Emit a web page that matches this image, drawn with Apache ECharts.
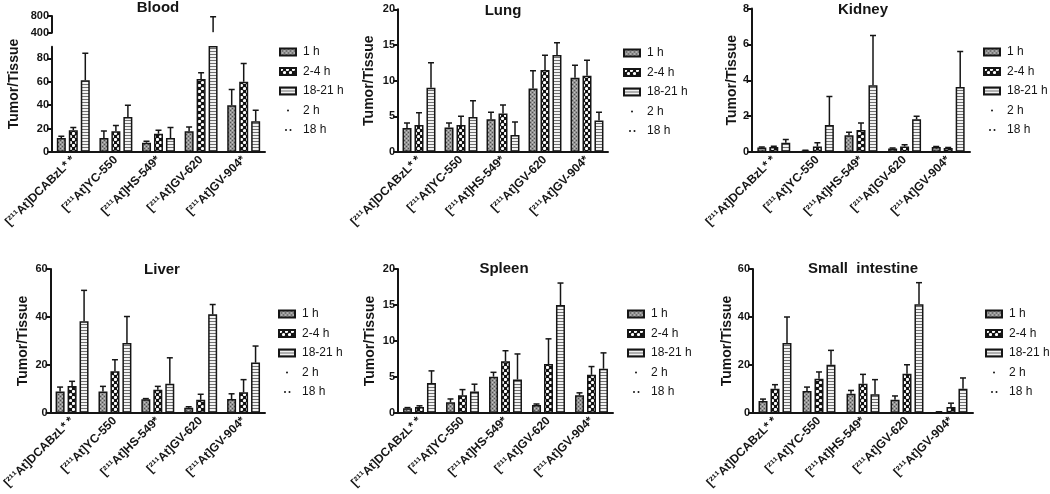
<!DOCTYPE html>
<html><head><meta charset="utf-8">
<script src="https://cdn.jsdelivr.net/npm/echarts@6/dist/echarts.min.js"></script>
<style>html,body{margin:0;padding:0;background:#fff}#c{width:1050px;height:494px}</style>
</head><body><div id="c"></div>
<script>
// ---------- DATA ----------
const categories = ['[²¹¹At]DCABzL* *', '[²¹¹At]YC-550', '[²¹¹At]HS-549*', '[²¹¹At]GV-620', '[²¹¹At]GV-904*'];
const seriesNames = ['1 h', '2-4 h', '18-21 h'];
const markerNames = ['2 h', '18 h'];
const panelTitles = ['Blood', 'Lung', 'Kidney', 'Liver', 'Spleen', 'Small  intestine'];

// mean values per series [1 h, 2-4 h, 18-21 h], and top of error bar
const bloodMean = [[12, 12, 8, 17.7, 40], [18.6, 17.7, 15.7, 62.3, 60], [61.4, 30, 12, 410, 26.3]];
const bloodTop  = [[13.4, 18, 9.1, 21.4, 53.4], [20.9, 22.6, 18.6, 67.7, 75.7], [84.3, 40, 20.9, 780, 35.7]];
const lungMean  = [[3.36, 3.45, 4.6, 8.9, 10.4], [3.8, 3.8, 5.4, 11.5, 10.7], [9.0, 4.9, 2.4, 13.6, 4.4]];
const lungTop   = [[4.07, 4.07, 5.56, 11.4, 12.15], [5.5, 5.0, 6.6, 13.55, 12.85], [12.5, 7.2, 4.2, 15.3, 5.56]];
const kidneyMean = [[0.25, 0.08, 0.93, 0.2, 0.28], [0.28, 0.3, 1.22, 0.3, 0.22], [0.52, 1.5, 3.72, 1.82, 3.62]];
const kidneyTop  = [[0.28, 0.1, 1.1, 0.22, 0.3], [0.32, 0.52, 1.62, 0.4, 0.25], [0.7, 3.1, 6.5, 2.0, 5.6]];
const liverMean = [[9, 9, 5.7, 2.2, 5.8], [11.2, 17.4, 9.7, 5.5, 8.6], [38.2, 29.2, 12.2, 41.1, 21]];
const liverTop  = [[10.8, 11.1, 6, 2.6, 8], [13.2, 22.2, 11.1, 7.8, 13.9], [51.1, 40.2, 23, 45.2, 27.9]];
const spleenMean = [[0.65, 1.5, 5.05, 1.1, 2.45], [0.85, 2.45, 7.2, 6.8, 5.3], [4.15, 3.0, 4.65, 15.0, 6.15]];
const spleenTop  = [[0.75, 1.95, 5.65, 1.25, 2.8], [1.0, 3.25, 8.65, 10.3, 6.45], [5.85, 4.0, 8.2, 18.05, 8.35]];
const siMean = [[5, 9.2, 8, 5.5, 0.4], [10.1, 14.3, 12.2, 16.4, 2.5], [29.2, 20.1, 7.8, 45.3, 10.1]];
const siTop  = [[5.8, 10.8, 9.4, 7.1, 0.5], [11.8, 17.1, 16.1, 20.1, 4.1], [40, 26.1, 13.9, 54.3, 14.6]];

// axis scales [min, max, interval]
const bloodLowerScale = [0, 90, 20];
const bloodUpperScale = [400, 800, 400];
const lungScale = [0, 20, 5];
const kidneyScale = [0, 8, 2];
const liverScale = [0, 60, 20];
const spleenScale = [0, 20, 5];
const siScale = [0, 60, 20];

// ---------- STYLE / LAYOUT ----------
const FONT = '"Liberation Sans", Arial, sans-serif';
const INK = '#151515';

function pattern(kind) {
  const c = document.createElement('canvas');
  const g = c.getContext('2d');
  if (kind === 0) {
    c.width = 4; c.height = 4;
    g.fillStyle = '#949494'; g.fillRect(0, 0, 4, 4);
    g.fillStyle = '#505050'; g.fillRect(0, 0, 1, 1); g.fillRect(2, 2, 1, 1);
    g.fillStyle = '#c4c4c4'; g.fillRect(2, 0, 1, 1); g.fillRect(0, 2, 1, 1);
  } else if (kind === 1) {
    c.width = 6; c.height = 6;
    g.fillStyle = '#111'; g.fillRect(0, 0, 6, 6);
    g.fillStyle = '#fff';
    g.beginPath(); g.arc(1.5, 1.5, 1.6, 0, Math.PI * 2); g.fill();
    g.beginPath(); g.arc(4.5, 4.5, 1.6, 0, Math.PI * 2); g.fill();
  } else {
    c.width = 3; c.height = 3;
    g.fillStyle = '#f2f2f2'; g.fillRect(0, 0, 3, 3);
    g.fillStyle = '#707070'; g.fillRect(0, 0, 3, 1);
  }
  return { image: c, repeat: 'repeat' };
}
const fills = [pattern(0), pattern(1), pattern(2)];

const BAR_W = 9, BAR_STEP = 12;

const grids = [
  { left: 52, top: 46.7, width: 213, height: 105.3 },   // 0 blood lower
  { left: 52, top: 16, width: 213, height: 16.7 },      // 1 blood upper
  { left: 398, top: 9.3, width: 210, height: 142.7 },   // 2 lung
  { left: 752, top: 8.5, width: 218, height: 143.5 },   // 3 kidney
  { left: 48, top: 269, width: 217, height: 144 },      // 4 liver
  { left: 398, top: 269, width: 215, height: 144 },     // 5 spleen
  { left: 753, top: 269, width: 220, height: 144 }      // 6 small intestine
];

const panels = [
  { grids: [0, 1], scales: [bloodLowerScale, bloodUpperScale], mean: bloodMean, top: bloodTop, nameGap: null },
  { grids: [2], scales: [lungScale], mean: lungMean, top: lungTop, nameGap: 22 },
  { grids: [3], scales: [kidneyScale], mean: kidneyMean, top: kidneyTop, nameGap: 11 },
  { grids: [4], scales: [liverScale], mean: liverMean, top: liverTop, nameGap: 21 },
  { grids: [5], scales: [spleenScale], mean: spleenMean, top: spleenTop, nameGap: 21 },
  { grids: [6], scales: [siScale], mean: siMean, top: siTop, nameGap: 18 }
];

const titlePos = [[158, 0], [503, 3], [863, 2.5], [162, 262], [504, 261], [863, 261]];
const legendPos = [[279, 46], [623, 47], [983, 46], [278, 308], [627, 308], [985, 308]];

const xAxes = [], yAxes = [], series = [];

function errRender(params, api) {
  const c = api.value(0), s = api.value(1);
  const p0 = api.coord([c, api.value(2)]);
  const p1 = api.coord([c, api.value(3)]);
  const x = p0[0] + (s - 1) * BAR_STEP;
  const st = { stroke: INK, lineWidth: 1.5 };
  return {
    type: 'group', children: [
      { type: 'line', shape: { x1: x, y1: p0[1], x2: x, y2: p1[1] }, style: st },
      { type: 'line', shape: { x1: x - 3, y1: p1[1], x2: x + 3, y2: p1[1] }, style: st }
    ]
  };
}

panels.forEach((p, pi) => {
  p.grids.forEach((gi, k) => {
    const sc = p.scales[k];
    const isUpper = (pi === 0 && k === 1);
    xAxes.push({
      type: 'category', gridIndex: gi, data: categories, show: !isUpper,
      axisLine: { lineStyle: { color: INK, width: 2 } },
      axisTick: { alignWithLabel: true, length: 5, lineStyle: { color: INK, width: 2 } },
      axisLabel: { rotate: 45, interval: 0, margin: 6, color: INK, fontFamily: FONT, fontWeight: 'bold', fontSize: 12 }
    });
    const ya = {
      type: 'value', gridIndex: gi, min: sc[0], max: sc[1], interval: sc[2],
      splitLine: { show: false },
      axisLine: { show: true, lineStyle: { color: INK, width: 2 } },
      axisTick: { show: true, length: 5, lineStyle: { color: INK, width: 2 } },
      axisLabel: { color: INK, fontFamily: FONT, fontWeight: 'bold', fontSize: 11, margin: 3,
                   showMaxLabel: !(pi === 0 && k === 0) }
    };
    if (p.nameGap !== null) {
      Object.assign(ya, { name: 'Tumor/Tissue', nameLocation: 'middle', nameGap: p.nameGap,
        nameTextStyle: { color: INK, fontFamily: FONT, fontWeight: 'bold', fontSize: 14 } });
    }
    yAxes.push(ya);
    const axisIdx = xAxes.length - 1;
    for (let s = 0; s < 3; s++) {
      series.push({
        type: 'bar', name: seriesNames[s], xAxisIndex: axisIdx, yAxisIndex: axisIdx,
        data: p.mean[s], barWidth: BAR_W, barGap: '33%', clip: true, silent: true,
        itemStyle: { color: fills[s], borderColor: INK, borderWidth: 1.5 }
      });
    }
    const errData = [];
    for (let s = 0; s < 3; s++) for (let c = 0; c < categories.length; c++) {
      errData.push([c, s, p.mean[s][c], p.top[s][c]]);
    }
    series.push({
      type: 'custom', xAxisIndex: axisIdx, yAxisIndex: axisIdx, data: errData, clip: true, silent: true,
      encode: { x: 0, y: 3 }, renderItem: errRender, z: 5
    });
  });
});

// marker-only series for legend entries
markerNames.forEach(n => series.push({ type: 'line', name: n, data: [], xAxisIndex: 0, yAxisIndex: 0,
  itemStyle: { color: INK }, lineStyle: { color: INK } }));

const dot1 = 'path://M0,0M16,7M7,3.5a1,1 0 1,0 2,0a1,1 0 1,0 -2,0Z';
const dot2 = 'path://M0,0M16,7M5,3.5a1,1 0 1,0 2,0a1,1 0 1,0 -2,0ZM9.5,3.5a1,1 0 1,0 2,0a1,1 0 1,0 -2,0Z';

const barLegendStyle = { borderColor: INK, borderWidth: 2 };
const legends = legendPos.map(lp => ({
  orient: 'vertical', left: lp[0], top: lp[1], padding: 0, icon: 'rect',
  itemWidth: 16, itemHeight: 7, itemGap: 7.5, selectedMode: false,
  textStyle: { color: INK, fontFamily: FONT, fontSize: 12, padding: [0, 0, 0, 2] },
  data: [
    { name: seriesNames[0], itemStyle: barLegendStyle },
    { name: seriesNames[1], itemStyle: barLegendStyle },
    { name: seriesNames[2], itemStyle: barLegendStyle },
    { name: markerNames[0], icon: dot1, itemStyle: { color: INK, borderWidth: 0 } },
    { name: markerNames[1], icon: dot2, itemStyle: { color: INK, borderWidth: 0 } }
  ]
}));

const titles = panelTitles.map((t, i) => ({
  text: t, left: titlePos[i][0], top: titlePos[i][1], textAlign: 'center', padding: 0,
  textStyle: { color: INK, fontFamily: FONT, fontWeight: 'bold', fontSize: 15 }
}));

const chart = echarts.init(document.getElementById('c'));
chart.setOption({
  backgroundColor: '#fff',
  animation: false,
  title: titles,
  legend: legends,
  grid: grids,
  xAxis: xAxes,
  yAxis: yAxes,
  series: series,
  graphic: [{
    type: 'text', x: 14, y: 84, rotation: Math.PI / 2,
    style: { text: 'Tumor/Tissue', fill: INK, font: 'bold 14px ' + FONT, textAlign: 'center', textVerticalAlign: 'middle' }
  }]
});
</script></body></html>
